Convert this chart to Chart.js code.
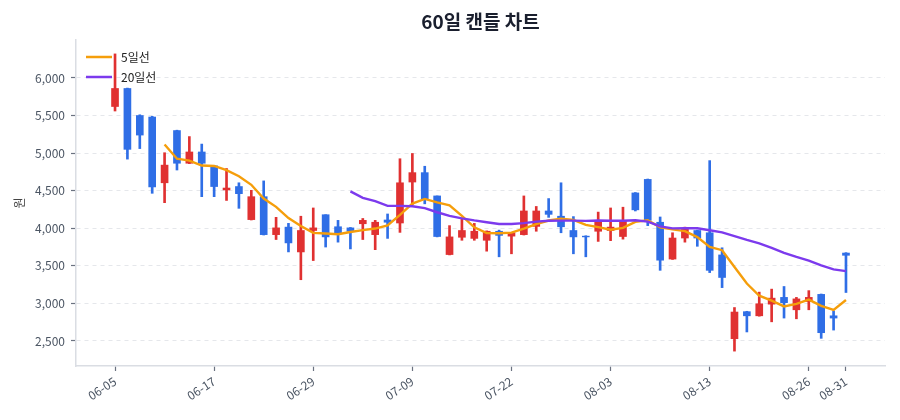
<!DOCTYPE html>
<html>
<head>
<meta charset="utf-8">
<script src="https://cdn.jsdelivr.net/npm/chart.js@4.4.1/dist/chart.umd.min.js"></script>
<style>
  html, body { margin: 0; padding: 0; background: #fff; }
  #chart { display: block; }
</style>
</head>
<body>
<canvas id="chart" width="900" height="420"></canvas>
<script>
// 60 trading days, only some dates are shown on the axis
const tickIdx = [0, 8, 16, 24, 32, 40, 48, 56, 59];
const tickLabels = ['06-05', '06-17', '06-29', '07-09', '07-22', '08-03', '08-13', '08-26', '08-31'];
const yTicks = [2500, 3000, 3500, 4000, 4500, 5000, 5500, 6000];

const opens = [5620, 5860, 5500, 5480, 4605, 5300, 4865, 5015, 4830, 4510,
  4555, 4115, 4420, 3915, 4015, 3685, 3970, 4180, 4020, 4005,
  4060, 3915, 4110, 4070, 4615, 4740, 4430, 3650, 3880, 3865,
  3840, 3960, 3895, 3915, 4025, 4230, 4160, 3970, 3895, 3960,
  3970, 3890, 4470, 4650, 4080, 3590, 3870, 3970, 3940, 3645,
  2530, 2890, 2835, 2990, 3080, 2915, 3025, 3120, 2835, 3670];
const highs = [6320, 5865, 5510, 5490, 5005, 5305, 5220, 5120, 4830, 4795,
  4605, 4505, 4630, 4145, 4065, 4160, 4270, 4180, 4105, 4010,
  4130, 4105, 4190, 4925, 4995, 4825, 4430, 4035, 4125, 4065,
  3965, 3975, 3945, 4430, 4290, 4395, 4605, 4155, 3900, 4215,
  4270, 4280, 4475, 4655, 4150, 3940, 4015, 3975, 4900, 3740,
  2945, 2895, 3150, 3190, 3225, 3080, 3170, 3125, 2900, 3675];
const lows = [5560, 4920, 5060, 4465, 4340, 4775, 4860, 4420, 4420, 4370,
  4265, 4110, 3910, 3850, 3685, 3315, 3570, 3750, 3815, 3725,
  3850, 3715, 3865, 3945, 4315, 4325, 3885, 3645, 3840, 3840,
  3695, 3620, 3660, 3910, 3960, 4145, 3940, 3660, 3620, 3825,
  3835, 3855, 4230, 4035, 3440, 3585, 3815, 3760, 3410, 3210,
  2365, 2620, 2830, 2755, 2805, 2795, 2915, 2535, 2645, 3145];
const closes = [5860, 5050, 5240, 4550, 4840, 4865, 5015, 4865, 4555, 4535,
  4460, 4420, 3915, 4005, 3805, 3970, 4005, 3885, 3940, 3960,
  4105, 4080, 4080, 4605, 4740, 4385, 3890, 3885, 3970, 3960,
  3960, 3905, 3940, 4230, 4230, 4185, 4020, 3885, 3885, 4080,
  4015, 4090, 4245, 4105, 3575, 3870, 3985, 3870, 3440, 3345,
  2885, 2835, 2995, 3070, 3010, 3060, 3080, 2610, 2805, 3640];

const ma5 = [null, null, null, null, 5115, 4925, 4900, 4835, 4829, 4772,
  4692, 4578, 4395, 4285, 4135, 4030, 3938, 3930, 3920, 3950,
  3975, 3996, 4038, 4178, 4328, 4390, 4345, 4305, 4165, 4012,
  3935, 3933, 3942, 3996, 4056, 4103, 4126, 4111, 4045, 4015,
  3980, 4005, 4085, 4107, 4012, 3985, 3962, 3883, 3752, 3708,
  3485, 3265, 3102, 3038, 2960, 2994, 3050, 2967, 2913, 3045];
const ma20 = [null, null, null, null, null, null, null, null, null, null,
  null, null, null, null, null, null, null, null, null, 4490,
  4405, 4360, 4298, 4298, 4293, 4268, 4213, 4165, 4132, 4104,
  4080, 4056, 4056, 4068, 4088, 4100, 4102, 4102, 4098, 4104,
  4100, 4100, 4106, 4088, 4025, 3998, 4000, 4000, 3974, 3945,
  3895, 3845, 3800, 3740, 3673, 3618, 3570, 3505, 3453, 3430];

const UP = '#e03131';
const DOWN = '#2f6ee6';
const FONT = '"Noto Sans CJK KR", "Noto Sans", sans-serif';

const candleColors = opens.map((o, i) => closes[i] >= o ? UP : DOWN);

const titlePlugin = {
  id: 'topTitle',
  afterDraw(chart) {
    const { ctx, chartArea } = chart;
    ctx.save();
    ctx.font = 'bold 19px ' + FONT;
    ctx.fillStyle = '#1a1f2e';
    ctx.textAlign = 'center';
    ctx.textBaseline = 'middle';
    ctx.fillText('60일 캔들 차트', (chartArea.left + chartArea.right) / 2, 22);
    ctx.restore();
  }
};

// legend drawn inside the plot, top left (5일선 first)
const innerLegend = {
  id: 'innerLegend',
  afterDraw(chart) {
    const { ctx, chartArea } = chart;
    const items = chart.data.datasets.filter(d => d.type === 'line').reverse();
    ctx.save();
    ctx.font = '12px ' + FONT;
    ctx.textBaseline = 'middle';
    items.forEach((d, k) => {
      const y = chartArea.top + 17 + k * 20;
      const x = chartArea.left + 10;
      ctx.strokeStyle = d.borderColor;
      ctx.lineWidth = 2.5;
      ctx.beginPath();
      ctx.moveTo(x, y);
      ctx.lineTo(x + 26, y);
      ctx.stroke();
      ctx.fillStyle = '#222';
      ctx.fillText(d.label, x + 35, y);
    });
    ctx.restore();
  }
};

new Chart(document.getElementById('chart'), {
  type: 'bar',
  data: {
    datasets: [
      {
        type: 'line',
        label: '20일선',
        data: ma20.map((v, i) => ({ x: i, y: v })),
        borderColor: '#7c3aed',
        borderWidth: 2.4,
        pointRadius: 0,
        tension: 0,
        order: 0
      },
      {
        type: 'line',
        label: '5일선',
        data: ma5.map((v, i) => ({ x: i, y: v })),
        borderColor: '#f59e0b',
        borderWidth: 2.4,
        pointRadius: 0,
        tension: 0,
        order: 1
      },
      {
        label: 'body',
        data: opens.map((o, i) => ({ x: i, y: [o, closes[i]] })),
        backgroundColor: candleColors,
        barThickness: 7,
        grouped: false,
        order: 2
      },
      {
        label: 'wick',
        data: lows.map((l, i) => ({ x: i, y: [l, highs[i]] })),
        backgroundColor: candleColors,
        barThickness: 2,
        grouped: false,
        order: 3
      }
    ]
  },
  options: {
    responsive: false,
    animation: false,
    devicePixelRatio: 1,
    layout: { padding: { left: 8, right: 15, top: 40, bottom: 0 } },
    plugins: {
      legend: { display: false },
      title: { display: false },
      tooltip: { enabled: false }
    },
    scales: {
      x: {
        type: 'linear',
        min: -3.15,
        max: 62.15,
        offset: false,
        afterFit: s => { s.height = 54; },
        afterBuildTicks: s => { s.ticks = tickIdx.map(v => ({ value: v })); },
        ticks: {
          autoSkip: false,
          minRotation: 33,
          maxRotation: 33,
          padding: 3,
          color: '#4b5563',
          font: { family: FONT, size: 12 },
          callback: v => tickLabels[tickIdx.indexOf(v)]
        },
        grid: { offset: false, drawOnChartArea: false, drawTicks: true, tickLength: 5, tickColor: '#6b7280', tickWidth: 1.2 },
        border: { display: true, color: '#dadde3', width: 1.5 }
      },
      y: {
        min: 2167,
        max: 6505,
        afterFit: s => { s.width = 68; },
        afterBuildTicks: s => { s.ticks = yTicks.map(v => ({ value: v })); },
        ticks: {
          padding: 6,
          color: '#4b5563',
          font: { family: FONT, size: 12 },
          callback: v => v.toLocaleString('en-US')
        },
        grid: { color: '#e5e7eb', lineWidth: 1, tickLength: 5, tickColor: '#6b7280', tickWidth: 1.2 },
        border: { display: true, color: '#dadde3', width: 1.5, dash: [4, 4] },
        title: { display: true, text: '원', color: '#444', font: { family: FONT, size: 12 } }
      }
    }
  },
  plugins: [titlePlugin, innerLegend]
});
</script>
</body>
</html>
